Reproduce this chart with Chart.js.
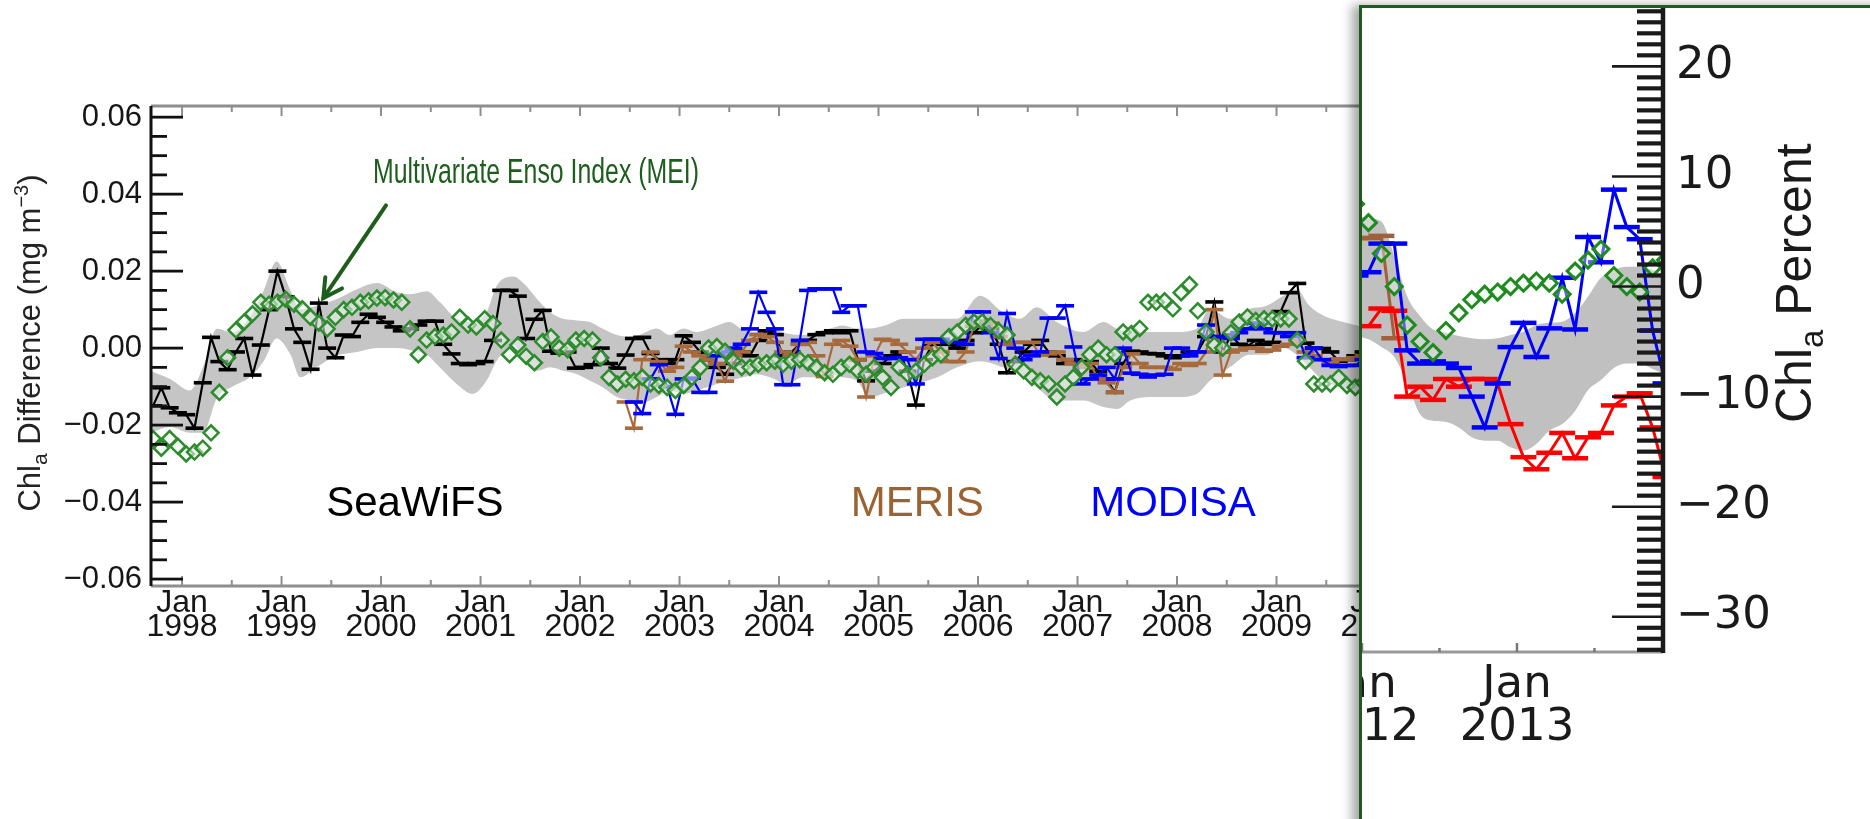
<!DOCTYPE html>
<html><head><meta charset="utf-8">
<script src="https://cdn.jsdelivr.net/npm/chart.js@4.4.1/dist/chart.umd.min.js"></script>
<style>
html,body{margin:0;padding:0;background:#fff;overflow:hidden;width:1870px;height:819px;}
#main{position:absolute;left:0;top:0;}
#insetBox{position:absolute;left:1359px;top:5px;width:620px;height:900px;background:#fff;border-left:3px solid #1f5a1f;border-top:3px solid #1f5a1f;box-shadow:-7px 0 10px rgba(0,0,0,0.35);}
#inset{position:absolute;left:0;top:0;}
</style></head><body>
<canvas id="main" width="1870" height="819"></canvas>
<div id="insetBox"><canvas id="inset" width="508" height="811"></canvas></div>
<script>
// ---------------- DATA: main panel (Chl_a difference, mg m^-3) ----------------
const seawifsStart = [1997, 9];
const seawifsVals = [
-0.0150,-0.0103,-0.0155,-0.0168,
-0.0173,-0.0208,-0.0090,0.0028,-0.0035,-0.0056,-0.0010,0.0025,-0.0070,0.0008,0.0100,0.0200,
0.0133,0.0050,0.0015,-0.0055,0.0117,0.0000,-0.0025,0.0034,0.0030,0.0067,0.0088,0.0080,
0.0067,0.0055,0.0045,0.0050,0.0060,0.0070,0.0070,0.0010,-0.0015,-0.0040,-0.0043,-0.0040,
-0.0035,0.0020,0.0150,0.0150,0.0135,0.0025,0.0075,0.0098,-0.0008,-0.0013,-0.0010,-0.0052,
-0.0050,-0.0043,0.0000,-0.0040,-0.0052,-0.0018,0.0025,0.0028,-0.0014,-0.0030,-0.0040,-0.0030,
0.0032,0.0015,-0.0010,-0.0030,-0.0050,-0.0068,-0.0040,-0.0010,-0.0020,0.0020,0.0045,0.0035,
-0.0020,-0.0010,0.0010,0.0020,0.0035,0.0040,0.0045,0.0040,0.0045,-0.0030,-0.0085,-0.0060,
-0.0040,-0.0020,-0.0010,-0.0060,-0.0148,-0.0030,0.0010,0.0020,0.0010,0.0000,0.0020,0.0040,
0.0060,0.0050,0.0010,-0.0064,-0.0035,-0.0010,0.0010,0.0020,-0.0010,-0.0020,-0.0040,-0.0030,
-0.0040,-0.0035,-0.0060,-0.0080,-0.0115,-0.0040,-0.0008,-0.0010,-0.0014,-0.0015,-0.0020,-0.0025,
-0.0020,-0.0010,-0.0010,0.0030,0.0120,-0.0010,0.0034,0.0010,0.0005,0.0020,0.0010,0.0015,
0.0095,0.0144,0.0168,0.0013,0.0000,-0.0001,-0.0010,-0.0034,-0.0030,-0.0020,-0.0010,0.0000,
-0.0010];

const merisStart = [2002, 6];
const merisVals = [
-0.0140,-0.0208,-0.0030,-0.0010,-0.0035,-0.0060,-0.0050,
0.0005,-0.0010,-0.0020,-0.0030,-0.0040,-0.0086,-0.0020,-0.0010,0.0020,0.0035,0.0030,0.0015,
-0.0010,-0.0020,0.0010,0.0015,-0.0020,-0.0074,0.0010,0.0020,0.0005,-0.0030,-0.0127,-0.0020,
0.0023,0.0020,0.0010,-0.0010,-0.0030,0.0000,0.0015,-0.0010,-0.0035,-0.0035,-0.0010,0.0057,
0.0070,0.0065,0.0030,0.0010,0.0015,0.0015,0.0015,-0.0018,-0.0015,-0.0010,-0.0030,-0.0040,
-0.0050,-0.0040,-0.0080,-0.0090,-0.0115,-0.0050,-0.0015,-0.0040,-0.0050,-0.0050,-0.0050,-0.0055,
-0.0040,-0.0045,-0.0040,-0.0010,0.0100,-0.0070,-0.0010,-0.0005,0.0000,0.0000,-0.0008,-0.0005,
0.0005,0.0010,0.0020,-0.0010,-0.0020,-0.0030,-0.0038,-0.0028,-0.0030,-0.0025,-0.0020,-0.0010,
-0.0010];

const modisStart = [2002, 7];
const modisVals = [
-0.0140,-0.0170,-0.0080,-0.0043,-0.0100,-0.0172,
-0.0080,-0.0078,-0.0115,-0.0115,-0.0020,-0.0010,0.0000,0.0010,0.0050,0.0145,0.0093,0.0050,
-0.0095,-0.0095,0.0020,0.0150,0.0154,0.0154,0.0154,0.0093,0.0110,0.0110,-0.0010,-0.0014,
-0.0027,-0.0027,-0.0025,-0.0030,-0.0093,0.0023,0.0023,0.0023,0.0015,0.0015,0.0010,0.0094,
0.0094,0.0040,-0.0027,0.0090,0.0000,-0.0030,-0.0020,-0.0010,0.0078,0.0078,0.0110,0.0003,
-0.0093,-0.0080,-0.0070,-0.0050,-0.0080,0.0000,-0.0065,-0.0068,-0.0075,-0.0070,-0.0068,0.0000,
0.0000,-0.0020,-0.0010,0.0060,0.0030,0.0030,0.0025,0.0040,0.0050,0.0065,0.0050,0.0040,
0.0040,0.0030,0.0040,-0.0025,0.0000,-0.0030,-0.0045,-0.0048,-0.0045,-0.0045,-0.0030,-0.0020,
-0.0020];

const meiStart = [1997, 9];
const meiVals = [
-0.0235,-0.0260,-0.0235,-0.0255,
-0.0275,-0.0270,-0.0260,-0.0220,-0.0115,-0.0025,0.0047,0.0068,0.0089,0.0119,0.0114,0.0119,
0.0127,0.0114,0.0102,0.0080,0.0065,0.0050,0.0080,0.0100,0.0106,0.0119,0.0123,0.0130,
0.0131,0.0125,0.0119,0.0050,-0.0017,0.0021,0.0030,0.0034,0.0042,0.0080,0.0060,0.0055,
0.0076,0.0064,0.0021,-0.0017,0.0008,-0.0021,-0.0038,0.0017,0.0029,0.0000,-0.0004,0.0021,
0.0025,0.0021,-0.0025,-0.0076,-0.0093,-0.0081,-0.0085,-0.0076,-0.0093,-0.0097,-0.0102,-0.0110,
-0.0097,-0.0076,-0.0050,0.0000,0.0004,-0.0008,-0.0034,-0.0050,-0.0050,-0.0042,-0.0038,-0.0034,
-0.0042,-0.0034,-0.0030,-0.0038,-0.0050,-0.0064,-0.0068,-0.0050,-0.0042,-0.0059,-0.0068,-0.0050,
-0.0076,-0.0102,-0.0050,-0.0068,-0.0060,-0.0042,-0.0025,-0.0017,0.0030,0.0042,0.0059,0.0068,
0.0068,0.0059,0.0045,0.0034,-0.0042,-0.0059,-0.0076,-0.0085,-0.0093,-0.0127,-0.0093,-0.0076,
-0.0050,-0.0017,0.0000,-0.0017,-0.0017,0.0042,0.0038,0.0051,0.0119,0.0119,0.0123,0.0102,
0.0144,0.0165,0.0097,0.0042,0.0008,0.0000,0.0040,0.0068,0.0081,0.0072,0.0076,0.0076,
0.0076,0.0076,0.0021,-0.0034,-0.0093,-0.0093,-0.0093,-0.0076,-0.0097,-0.0102,-0.0090,-0.0080,
-0.0070];

const bandT = [1997.68,1997.88,1998.08,1998.21,1998.35,1998.51,1998.68,1998.82,1998.95,1999.09,1999.19,1999.35,1999.55,1999.76,1999.96,2000.16,2000.29,2000.46,2000.59,2000.76,2000.92,2001.06,2001.16,2001.33,2001.43,2001.57,2001.70,2001.83,2001.97,2002.10,2002.23,2002.37,2002.50,2002.60,2002.77,2002.90,2003.04,2003.17,2003.38,2003.50,2003.64,2003.77,2003.91,2004.08,2004.24,2004.37,2004.51,2004.64,2004.78,2004.91,2005.08,2005.25,2005.42,2005.59,2005.79,2006.02,2006.25,2006.42,2006.59,2006.79,2007.06,2007.26,2007.40,2007.53,2007.73,2008.00,2008.20,2008.33,2008.53,2008.73,2008.90,2009.07,2009.20,2009.33,2009.47,2009.67,2009.81,2010.00];
const bandUpper = [-0.0059,-0.0080,-0.0110,-0.0050,0.0050,0.0040,0.0080,0.0150,0.0225,0.0150,0.0100,0.0110,0.0127,0.0153,0.0169,0.0145,0.0140,0.0148,0.0120,0.0076,0.0068,0.0093,0.0161,0.0186,0.0169,0.0127,0.0093,0.0076,0.0072,0.0068,0.0050,0.0034,0.0030,0.0035,0.0051,0.0034,0.0051,0.0042,0.0059,0.0068,0.0047,0.0042,0.0051,0.0038,0.0034,0.0042,0.0051,0.0059,0.0051,0.0051,0.0060,0.0076,0.0076,0.0076,0.0076,0.0136,0.0093,0.0076,0.0106,0.0068,0.0042,0.0068,0.0050,0.0042,0.0042,0.0042,0.0051,0.0102,0.0076,0.0102,0.0110,0.0136,0.0153,0.0110,0.0085,0.0068,0.0059,0.0050];
const bandLower = [-0.0220,-0.0205,-0.0220,-0.0220,-0.0130,-0.0100,-0.0076,-0.0034,0.0025,-0.0017,-0.0076,-0.0050,-0.0020,-0.0010,0.0000,0.0000,-0.0005,-0.0017,-0.0050,-0.0093,-0.0119,-0.0085,-0.0034,0.0008,-0.0034,-0.0059,-0.0050,-0.0059,-0.0068,-0.0085,-0.0102,-0.0127,-0.0136,-0.0144,-0.0127,-0.0110,-0.0119,-0.0110,-0.0093,-0.0085,-0.0076,-0.0068,-0.0076,-0.0093,-0.0076,-0.0076,-0.0068,-0.0076,-0.0085,-0.0127,-0.0115,-0.0102,-0.0090,-0.0076,-0.0050,-0.0034,-0.0050,-0.0068,-0.0102,-0.0136,-0.0136,-0.0153,-0.0158,-0.0136,-0.0127,-0.0127,-0.0119,-0.0085,-0.0050,-0.0017,-0.0017,0.0000,-0.0017,-0.0050,-0.0085,-0.0102,-0.0119,-0.0120];

const mainYTicks = [-0.06,-0.04,-0.02,0.00,0.02,0.04,0.06];
const mainYearTicks = [1998,1999,2000,2001,2002,2003,2004,2005,2006,2007,2008,2009,2010,2011,2012,2013];

// ---------------- DATA: inset panel (Chl_a percent) ----------------
const insetStart = [2011, 12];
const insetMEI   = [7.5,5.8,3.0,0.0,-3.5,-5.0,-6.0,-4.0,-2.4,-1.2,-0.7,-0.5,0.0,0.3,0.5,0.3,-0.7,1.4,2.4,3.4,1.0,0.0,-0.5,1.7,2.4];
const insetMODIS = [1.0,1.3,3.9,3.9,-5.8,-7.0,-6.8,-7.0,-7.4,-10.0,-12.8,-8.8,-5.5,-3.3,-6.4,-3.8,0.8,-3.9,4.5,2.2,8.8,5.4,4.3,-4.0,-8.8];
const insetBandUpper = [6.5,6.2,5.9,2.8,-0.9,-2.7,-3.9,-4.2,-4.5,-4.7,-4.8,-4.7,-4.4,-4.1,-3.5,-3.3,-3.2,-2.4,-0.9,0.8,1.5,1.8,1.8,1.5,1.0];
const insetBandLower = [-4.5,-4.8,-5.5,-6.4,-8.8,-11.6,-12.2,-12.3,-12.8,-13.7,-14.0,-14.0,-14.6,-14.9,-14.3,-13.1,-12.5,-11.3,-9.4,-8.5,-7.4,-7.0,-7.0,-7.5,-8.0];
const viirsStart = [2012, 1];
const insetVIIRS = [-3.6,-2.0,-2.2,-10.0,-9.1,-10.3,-8.4,-9.1,-8.4,-8.4,-8.8,-12.5,-15.5,-16.6,-15.1,-13.3,-15.6,-13.7,-13.3,-10.8,-10.0,-9.7,-12.8,-17.3];
const merisInsetStart = [2011, 11];
const insetMERIS = [4.0,4.4,4.4,4.6,-4.7];

const insetYTicks = [-30,-20,-10,0,10,20];
const insetYearTicks = [2012, 2013];

// ---------------- annotation anchors (data coordinates) ----------------
const meiLabel = {text: 'Multivariate Enso Index (MEI)', x: 1999.92, y: 0.0429};
const meiArrow = {x1: 2000.05, y1: 0.0371, x2: 1999.42, y2: 0.0130};
const sensorLabels = [
  {text: 'SeaWiFS', x: 2000.34, y: -0.0436, color: '#000000'},
  {text: 'MERIS',   x: 2005.39, y: -0.0436, color: '#9c6332'},
  {text: 'MODISA',  x: 2007.96, y: -0.0436, color: '#0000ff'}
];

// ---------------- helpers ----------------
function monthly(start, vals) {
  return vals.map((v, i) => ({x: start[0] + (start[1] - 1 + i + 0.5) / 12, y: v}));
}
function paired(ts, vals) { return vals.map((v, i) => ({x: ts[i], y: v})); }
function seg(ctx, x1, y1, x2, y2) { ctx.beginPath(); ctx.moveTo(x1, y1); ctx.lineTo(x2, y2); ctx.stroke(); }
function richText(ctx, parts, x, y, rot) {
  ctx.save();
  ctx.translate(x, y); ctx.rotate(rot);
  ctx.textAlign = 'left'; ctx.textBaseline = 'alphabetic';
  let total = 0;
  parts.forEach(p => { ctx.font = p.size + 'px "Liberation Sans", Arial, sans-serif'; p.w = ctx.measureText(p.t).width; total += p.w; });
  let cx = -total / 2;
  parts.forEach(p => { ctx.font = p.size + 'px "Liberation Sans", Arial, sans-serif'; ctx.fillText(p.t, cx, p.dy || 0); cx += p.w; });
  ctx.restore();
}
const MAINFONT = '"Liberation Sans", Arial, sans-serif';
const INSETFONT = '"DejaVu Sans", sans-serif';
const minusFmt = v => (v < 0 ? '\u2212' : '') + Math.abs(v);
const noPad = s => { s.paddingLeft = 0; s.paddingRight = 0; s.paddingTop = 0; s.paddingBottom = 0; };

// ---------------- main chart ----------------
const mainDecor = {
  id: 'mainDecor',
  afterDraw(chart) {
    const {ctx, chartArea: a, scales: {x, y}} = chart;
    ctx.save();
    ctx.lineCap = 'butt';
    ctx.strokeStyle = '#8e8e8e'; ctx.lineWidth = 3;
    seg(ctx, a.left, a.top, a.right, a.top);
    seg(ctx, a.left, a.bottom, a.right, a.bottom);
    ctx.lineWidth = 2;
    mainYearTicks.forEach(yr => {
      const px = x.getPixelForValue(yr), pm = x.getPixelForValue(yr + 0.5);
      seg(ctx, px, a.top, px, a.top + 10); seg(ctx, px, a.bottom, px, a.bottom - 10);
      seg(ctx, pm, a.top, pm, a.top + 6); seg(ctx, pm, a.bottom, pm, a.bottom - 6);
    });
    ctx.strokeStyle = '#111'; ctx.lineWidth = 3;
    seg(ctx, a.left, a.top, a.left, a.bottom);
    ctx.lineWidth = 2.8;
    for (let k = -12; k <= 12; k++) {
      const v = k * 0.005, py = y.getPixelForValue(v);
      seg(ctx, a.left, py, a.left + (k % 4 === 0 ? 32 : 16), py);
    }
    ctx.fillStyle = '#222';
    richText(ctx, [
      {t: 'Chl', size: 31}, {t: 'a', size: 21, dy: 7},
      {t: ' Difference (mg m', size: 31}, {t: '\u22123', size: 20, dy: -12}, {t: ')', size: 31}
    ], 40, (a.top + a.bottom) / 2 - 3, -Math.PI / 2);
    ctx.textAlign = 'center'; ctx.textBaseline = 'alphabetic';
    ctx.font = '42px "Liberation Sans", Arial, sans-serif';
    sensorLabels.forEach(l => { ctx.fillStyle = l.color; ctx.fillText(l.text, x.getPixelForValue(l.x), y.getPixelForValue(l.y)); });
    ctx.save();
    ctx.translate(x.getPixelForValue(meiLabel.x), y.getPixelForValue(meiLabel.y));
    ctx.scale(0.71, 1);
    ctx.fillStyle = '#1d5e1d'; ctx.textAlign = 'left';
    ctx.font = '35px "Liberation Sans", Arial, sans-serif';
    ctx.fillText(meiLabel.text, 0, 0);
    ctx.restore();
    const x1 = x.getPixelForValue(meiArrow.x1), y1 = y.getPixelForValue(meiArrow.y1);
    const x2 = x.getPixelForValue(meiArrow.x2), y2 = y.getPixelForValue(meiArrow.y2);
    ctx.strokeStyle = '#1d5e1d'; ctx.lineWidth = 4; ctx.lineCap = 'round'; ctx.lineJoin = 'miter';
    seg(ctx, x1, y1, x2, y2);
    const ang = Math.atan2(y2 - y1, x2 - x1), hl = 21;
    ctx.beginPath();
    ctx.moveTo(x2 - hl * Math.cos(ang - 0.5), y2 - hl * Math.sin(ang - 0.5));
    ctx.lineTo(x2, y2);
    ctx.lineTo(x2 - hl * Math.cos(ang + 0.5), y2 - hl * Math.sin(ang + 0.5));
    ctx.stroke();
    ctx.restore();
  }
};

const capStyle = (color) => ({
  borderColor: color, borderWidth: 2.2, pointStyle: 'line', pointRadius: 9, pointBorderWidth: 3.6,
  pointBorderColor: color, pointBackgroundColor: color, fill: false, tension: 0
});

new Chart(document.getElementById('main'), {
  type: 'line',
  data: {
    datasets: [
      {label: 'MEI', data: monthly(meiStart, meiVals), showLine: false, pointStyle: 'rectRot',
        pointRadius: 7.5, pointBorderWidth: 2.5, pointBorderColor: '#2e8b2e', pointBackgroundColor: 'rgba(235,248,235,0.55)',
        borderColor: '#2e8b2e', order: 1},
      Object.assign({label: 'MODISA', data: monthly(modisStart, modisVals), order: 2}, capStyle('#0000ff')),
      Object.assign({label: 'MERIS', data: monthly(merisStart, merisVals), order: 3}, capStyle('#a86a3c')),
      Object.assign({label: 'SeaWiFS', data: monthly(seawifsStart, seawifsVals), order: 4}, capStyle('#000000')),
      {label: 'band upper', data: paired(bandT, bandUpper), fill: '+1', backgroundColor: '#c5c5c5', borderWidth: 0,
        pointRadius: 0, cubicInterpolationMode: 'monotone', order: 10},
      {label: 'band lower', data: paired(bandT, bandLower), fill: false, borderWidth: 0, pointRadius: 0,
        cubicInterpolationMode: 'monotone', order: 11}
    ]
  },
  options: {
    responsive: false, animation: false, events: [],
    layout: {padding: {top: 106, right: 96, bottom: 0, left: 0}, autoPadding: false},
    plugins: {legend: {display: false}, tooltip: {enabled: false}},
    scales: {
      x: {type: 'linear', position: 'bottom', min: 1997.688, max: 2014.0,
        afterFit: s => { s.height = 233; noPad(s); },
        afterBuildTicks: s => { s.ticks = mainYearTicks.map(v => ({value: v})); },
        grid: {display: false, drawTicks: false}, border: {display: false},
        ticks: {autoSkip: false, maxRotation: 0, padding: 5, color: '#161616',
          font: {family: MAINFONT, size: 32, lineHeight: 0.76},
          callback: v => ['Jan', String(v)]}
      },
      y: {type: 'linear', min: -0.0618, max: 0.0629,
        afterFit: s => { s.width = 151; noPad(s); },
        afterBuildTicks: s => { s.ticks = mainYTicks.map(v => ({value: v})); },
        grid: {display: false, drawTicks: false}, border: {display: false},
        ticks: {padding: 9, color: '#161616', font: {family: MAINFONT, size: 31},
          callback: v => (v < 0 ? '\u2212' : '') + Math.abs(v).toFixed(2)}
      }
    }
  },
  plugins: [mainDecor]
});

// ---------------- inset chart ----------------
const insetDecor = {
  id: 'insetDecor',
  afterDraw(chart) {
    const {ctx, chartArea: a, scales: {x, y}} = chart;
    ctx.save();
    ctx.strokeStyle = '#9a9a9a'; ctx.lineWidth = 3;
    seg(ctx, a.left, a.bottom, a.right, a.bottom);
    ctx.strokeStyle = '#777'; ctx.lineWidth = 2.5;
    insetYearTicks.forEach(yr => {
      const px = x.getPixelForValue(yr), pm = x.getPixelForValue(yr + 0.5);
      seg(ctx, px, a.bottom, px, a.bottom - 9);
      seg(ctx, pm, a.bottom, pm, a.bottom - 4);
    });
    ctx.strokeStyle = '#1a1a1a';
    ctx.lineWidth = 4.2;
    for (let v = -33; v <= 25; v++) {
      if (v % 10 === 0) continue;
      const py = y.getPixelForValue(v);
      seg(ctx, a.right, py, a.right - 26, py);
    }
    ctx.lineWidth = 2.6;
    insetYTicks.forEach(v => { const py = y.getPixelForValue(v); seg(ctx, a.right, py, a.right - 51, py); });
    ctx.lineWidth = 4.5;
    seg(ctx, a.right, a.top, a.right, a.bottom + 1);
    ctx.fillStyle = '#1a1a1a';
    richText(ctx, [{t: 'Chl', size: 50}, {t: 'a', size: 33, dy: 12}, {t: ' Percent', size: 50}],
      a.right + 148, y.getPixelForValue(0.3), -Math.PI / 2);
    ctx.restore();
  }
};

const insetCap = (color) => ({
  borderColor: color, borderWidth: 3, pointStyle: 'line', pointRadius: 13, pointBorderWidth: 4.5,
  pointBorderColor: color, pointBackgroundColor: color, fill: false, tension: 0
});

new Chart(document.getElementById('inset'), {
  type: 'line',
  data: {
    datasets: [
      {label: 'MEI', data: monthly(insetStart, insetMEI), showLine: false, pointStyle: 'rectRot', pointRadius: 8,
        pointBorderWidth: 3, pointBorderColor: '#1f8a1f', pointBackgroundColor: 'rgba(235,248,235,0.4)',
        borderColor: '#1f8a1f', order: 1},
      Object.assign({label: 'MODISA', data: monthly(insetStart, insetMODIS), order: 2}, insetCap('#0000ff')),
      Object.assign({label: 'VIIRS', data: monthly(viirsStart, insetVIIRS), order: 3}, insetCap('#ff0000')),
      Object.assign({label: 'MERIS', data: monthly(merisInsetStart, insetMERIS), order: 4}, insetCap('#a0603a')),
      {label: 'band upper', data: monthly(insetStart, insetBandUpper), fill: '+1', backgroundColor: '#c0c0c0',
        borderWidth: 0, pointRadius: 0, cubicInterpolationMode: 'monotone', order: 10},
      {label: 'band lower', data: monthly(insetStart, insetBandLower), fill: false, borderWidth: 0, pointRadius: 0,
        cubicInterpolationMode: 'monotone', order: 11}
    ]
  },
  options: {
    responsive: false, animation: false, events: [],
    layout: {padding: 0, autoPadding: false},
    plugins: {legend: {display: false}, tooltip: {enabled: false}},
    scales: {
      x: {type: 'linear', position: 'bottom', min: 2012.0, max: 2013.942,
        afterFit: s => { s.height = 167; noPad(s); },
        afterBuildTicks: s => { s.ticks = insetYearTicks.map(v => ({value: v})); },
        grid: {display: false, drawTicks: false}, border: {display: false},
        ticks: {autoSkip: false, maxRotation: 0, padding: 12, color: '#1a1a1a',
          font: {family: INSETFONT, size: 45, lineHeight: 0.95},
          callback: v => ['Jan', String(v)]}
      },
      y: {type: 'linear', position: 'right', min: -33.2, max: 25.3,
        afterFit: s => { s.width = 207; noPad(s); },
        afterBuildTicks: s => { s.ticks = insetYTicks.map(v => ({value: v})); },
        grid: {display: false, drawTicks: false}, border: {display: false},
        ticks: {padding: 13, color: '#1a1a1a', font: {family: INSETFONT, size: 45}, callback: v => minusFmt(v)}
      }
    }
  },
  plugins: [insetDecor]
});
</script>
</body></html>
